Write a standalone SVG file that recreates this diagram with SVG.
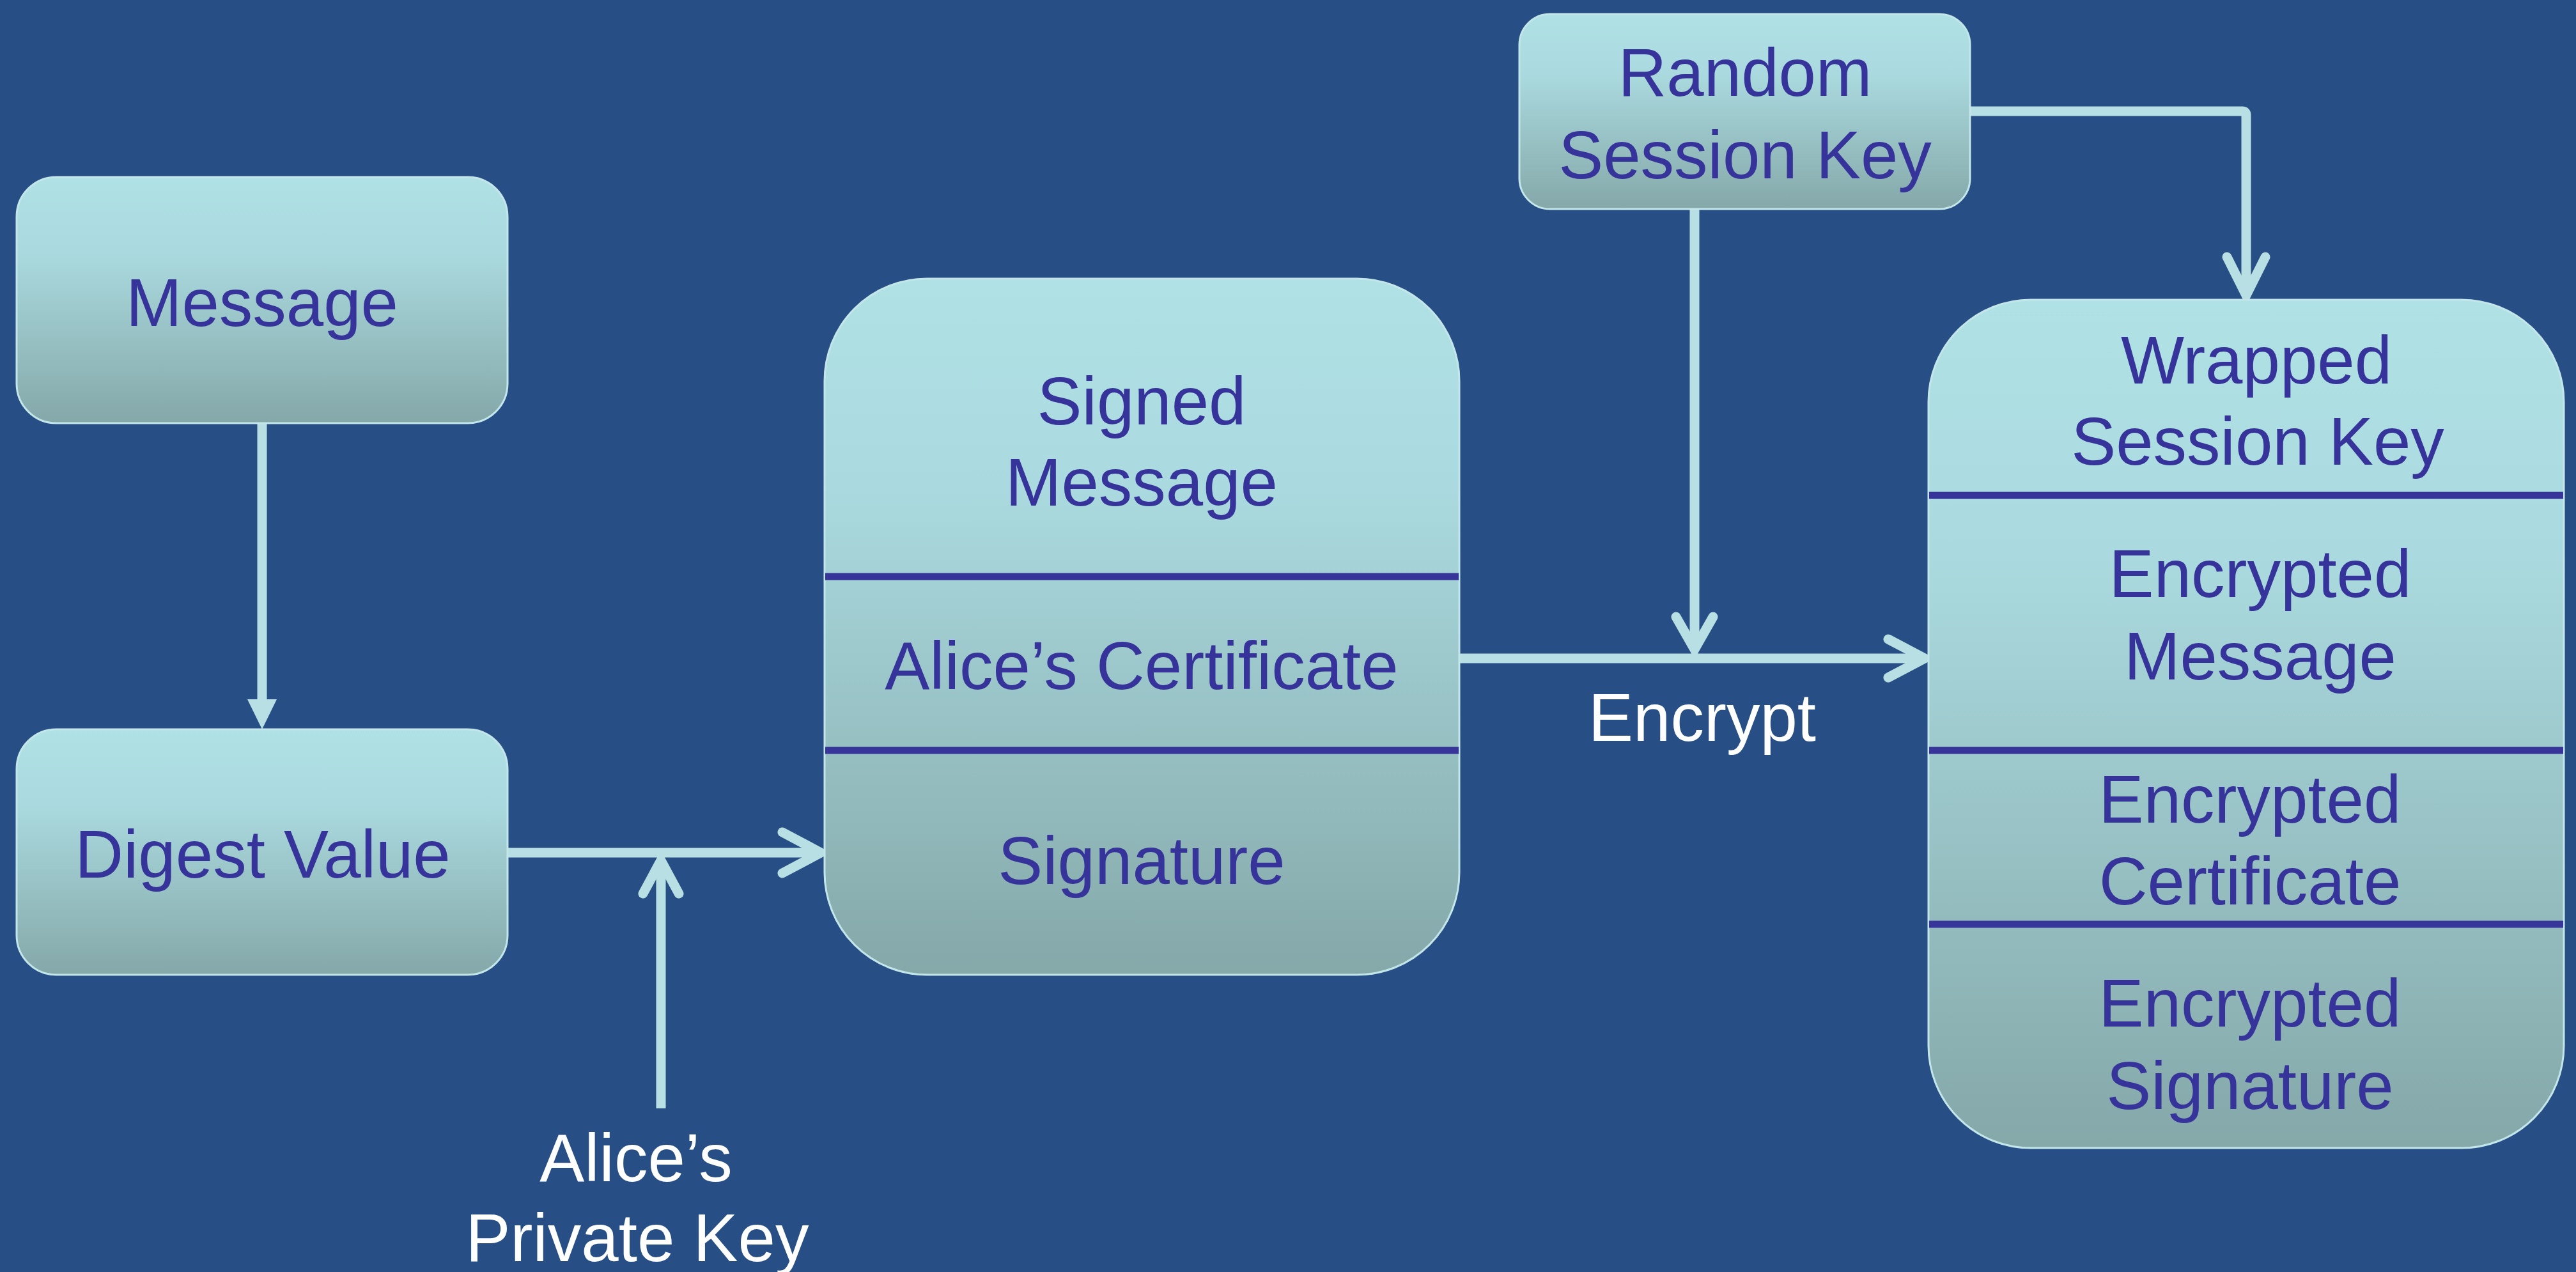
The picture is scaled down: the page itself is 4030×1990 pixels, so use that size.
<svg xmlns="http://www.w3.org/2000/svg" width="4030" height="1990" viewBox="0 0 4030 1990">
<defs>
<linearGradient id="boxg" x1="0" y1="0" x2="0" y2="1">
<stop offset="0" stop-color="#b0e1e5"/>
<stop offset="0.3" stop-color="#aadadf"/>
<stop offset="1" stop-color="#85a8a9"/>
</linearGradient>
<style>
.box{fill:url(#boxg);stroke:#c3e6ea;stroke-width:3}
.t{font-family:"Liberation Sans",Arial,sans-serif;font-size:105px;fill:#36339a;text-anchor:middle}
.w{font-family:"Liberation Sans",Arial,sans-serif;font-size:105px;fill:#ffffff;text-anchor:middle}
.div{stroke:#37349a;stroke-width:11}
.ln{fill:none;stroke:#b8dfe3;stroke-width:15}
.ah{fill:none;stroke:#b8dfe3;stroke-width:15;stroke-linecap:round;stroke-linejoin:miter}
</style>
</defs>
<rect x="0" y="0" width="4030" height="1990" fill="#284f85"/>

<g id="connectors">
<line class="ln" x1="410" y1="662" x2="410" y2="1100"/>
<polygon points="387,1094 433,1094 410,1141" fill="#b8dfe3"/>
<line class="ln" x1="794" y1="1334" x2="1282" y2="1334"/>
<polyline class="ah" points="1224,1302 1284,1334 1224,1366"/>
<line class="ln" x1="1034" y1="1734" x2="1034" y2="1350"/>
<polyline class="ah" points="1006,1398 1034,1346 1062,1398"/>
<line class="ln" x1="2283" y1="1030" x2="3010" y2="1030"/>
<polyline class="ah" points="2954,1000 3011,1030 2954,1060"/>
<line class="ln" x1="2651" y1="327" x2="2651" y2="1016"/>
<polyline class="ah" points="2622,965 2651,1016 2680,965"/>
<path class="ln" d="M3082,174 H3508 Q3514,174 3514,180 V462"/>
<polyline class="ah" points="3484,402 3514,462 3544,402"/>
</g>

<g id="message">
<rect class="box" x="26" y="277" width="768" height="385" rx="62"/>
<text class="t" x="410" y="510">Message</text>
</g>

<g id="digest">
<rect class="box" x="26" y="1141" width="768" height="384" rx="62"/>
<text class="t" x="411" y="1373">Digest Value</text>
</g>

<g id="signed">
<rect class="box" x="1290" y="436" width="993" height="1089" rx="160"/>
<line class="div" x1="1291" y1="902" x2="2282" y2="902"/>
<line class="div" x1="1291" y1="1174" x2="2282" y2="1174"/>
<text class="t" x="1786" y="664">Signed</text>
<text class="t" x="1786" y="791">Message</text>
<text class="t" x="1786" y="1078">Alice’s Certificate</text>
<text class="t" x="1786" y="1383">Signature</text>
</g>

<g id="random">
<rect class="box" x="2377" y="22" width="705" height="305" rx="48"/>
<text class="t" x="2730" y="150">Random</text>
<text class="t" x="2730" y="279">Session Key</text>
</g>

<g id="wrapped">
<rect class="box" x="3017" y="469" width="994" height="1327" rx="160"/>
<line class="div" x1="3018" y1="775" x2="4010" y2="775"/>
<line class="div" x1="3018" y1="1174" x2="4010" y2="1174"/>
<line class="div" x1="3018" y1="1446" x2="4010" y2="1446"/>
<text class="t" x="3530" y="600">Wrapped</text>
<text class="t" x="3532" y="727">Session Key</text>
<text class="t" x="3536" y="934">Encrypted</text>
<text class="t" x="3536" y="1063">Message</text>
<text class="t" x="3520" y="1287">Encrypted</text>
<text class="t" x="3520" y="1415">Certificate</text>
<text class="t" x="3520" y="1606">Encrypted</text>
<text class="t" x="3520" y="1735">Signature</text>
</g>

<g id="labels">
<text class="w" x="2663" y="1159">Encrypt</text>
<text class="w" x="995" y="1848">Alice’s</text>
<text class="w" x="997" y="1973">Private Key</text>
</g>
</svg>
